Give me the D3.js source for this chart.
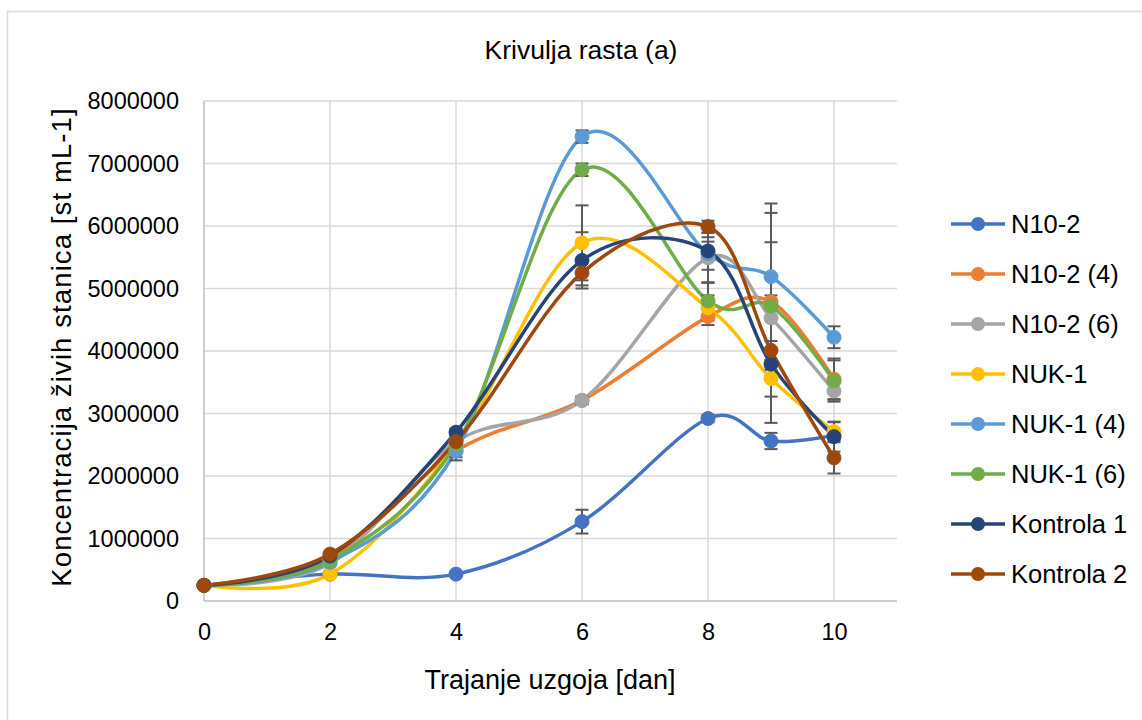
<!DOCTYPE html>
<html>
<head>
<meta charset="utf-8">
<script src="https://cdn.jsdelivr.net/npm/d3@7/dist/d3.min.js"></script>
<style>
  html, body { margin: 0; padding: 0; background: #fff; }
  svg { display: block; }
  text { font-family: "Liberation Sans", Arial, sans-serif; fill: #000; }
</style>
</head>
<body>
<svg id="chart" width="1142" height="720"></svg>
<script>
// ---- data ----
const days = [0, 2, 4, 6, 8, 9, 10];
const xTicks = [0, 2, 4, 6, 8, 10];
const yTicks = [0, 1000000, 2000000, 3000000, 4000000, 5000000, 6000000, 7000000, 8000000];
const seriesNames = ["N10-2", "N10-2 (4)", "N10-2 (6)", "NUK-1", "NUK-1 (4)", "NUK-1 (6)", "Kontrola 1", "Kontrola 2"];
const seriesColors = ["#4472C4", "#ED7D31", "#A5A5A5", "#FFC000", "#5B9BD5", "#70AD47", "#264478", "#9E480E"];

const valN10_2   = [250000, 430000, 430000, 1270000, 2920000, 2560000, 2650000];
const valN10_2_4 = [250000, 680000, 2400000, 3210000, 4550000, 4790000, 3550000];
const valN10_2_6 = [250000, 600000, 2550000, 3210000, 5490000, 4530000, 3360000];
const valNUK1    = [250000, 430000, 2500000, 5730000, 4690000, 3560000, 2710000];
const valNUK1_4  = [250000, 620000, 2400000, 7430000, 5560000, 5190000, 4220000];
const valNUK1_6  = [250000, 650000, 2500000, 6900000, 4800000, 4720000, 3520000];
const valKontr1  = [250000, 720000, 2700000, 5450000, 5600000, 3790000, 2630000];
const valKontr2  = [250000, 750000, 2550000, 5250000, 5990000, 4010000, 2290000];

const errN10_2   = [0, 30000, 30000, 190000, 60000, 130000, 60000];
const errN10_2_4 = [0, 30000, 150000, 60000, 135000, 100000, 330000];
const errN10_2_6 = [0, 30000, 100000, 60000, 400000, 1680000, 130000];
const errNUK1    = [0, 30000, 100000, 600000, 200000, 290000, 150000];
const errNUK1_4  = [0, 30000, 100000, 100000, 260000, 1170000, 175000];
const errNUK1_6  = [0, 30000, 100000, 100000, 300000, 1020000, 330000];
const errKontr1  = [0, 30000, 60000, 450000, 150000, 200000, 240000];
const errKontr2  = [0, 30000, 60000, 200000, 95000, 150000, 250000];

const titleText = "Krivulja rasta (a)";
const xTitle = "Trajanje uzgoja [dan]";
const yTitle = "Koncentracija živih stanica [st mL-1]";

const allValues = [valN10_2, valN10_2_4, valN10_2_6, valNUK1, valNUK1_4, valNUK1_6, valKontr1, valKontr2];
const allErrors = [errN10_2, errN10_2_4, errN10_2_6, errNUK1, errNUK1_4, errNUK1_6, errKontr1, errKontr2];

const series = seriesNames.map((name, i) => ({
  name, color: seriesColors[i],
  points: days.map((d, j) => ({ x: d, y: allValues[i][j], e: allErrors[i][j] }))
}));

// ---- layout ----
const svg = d3.select("#chart");
const x = d3.scaleLinear().domain([0, 11]).range([204, 897]);
const y = d3.scaleLinear().domain([0, 8000000]).range([601, 101]);

// chart border
svg.append("rect").attr("x", 7.5).attr("y", 11.5).attr("width", 1400).attr("height", 900)
  .attr("fill", "none").attr("stroke", "#d9d9d9").attr("stroke-width", 1.5);

// gridlines
svg.append("g").selectAll("line").data(yTicks).join("line")
  .attr("x1", x(0)).attr("x2", x(11)).attr("y1", d => y(d)).attr("y2", d => y(d))
  .attr("stroke", d => d === 0 ? "#bfbfbf" : "#d9d9d9").attr("stroke-width", 1.5);
svg.append("g").selectAll("line").data(xTicks).join("line")
  .attr("y1", y(0)).attr("y2", y(8000000)).attr("x1", d => x(d)).attr("x2", d => x(d))
  .attr("stroke", d => d === 0 ? "#bfbfbf" : "#d9d9d9").attr("stroke-width", 1.5);

// axes labels via d3 axes
const yAxis = d3.axisLeft(y).tickValues(yTicks).tickFormat(d3.format("d")).tickSize(0).tickPadding(25);
const gy = svg.append("g").attr("transform", `translate(${x(0)},0)`).call(yAxis);
gy.select(".domain").remove();
gy.selectAll("text").style("font-size", "23.5px").style("font-family", "'Liberation Sans', Arial, sans-serif").attr("fill", "#000");

const xAxis = d3.axisBottom(x).tickValues(xTicks).tickFormat(d3.format("d")).tickSize(0).tickPadding(22);
const gx = svg.append("g").attr("transform", `translate(0,${y(0)})`).call(xAxis);
gx.select(".domain").remove();
gx.selectAll("text").style("font-size", "23.5px").style("font-family", "'Liberation Sans', Arial, sans-serif").attr("fill", "#000");

// titles
svg.append("text").attr("x", 581).attr("y", 59).attr("text-anchor", "middle")
  .style("font-size", "26.5px").text(titleText);
svg.append("text").attr("x", 550).attr("y", 689).attr("text-anchor", "middle")
  .style("font-size", "27px").text(xTitle);
svg.append("text").attr("transform", `translate(71,347) rotate(-90)`).attr("text-anchor", "middle")
  .style("font-size", "27.5px").style("letter-spacing", "1.1px").text(yTitle);

// lines
const line = d3.line().x(d => x(d.x)).y(d => y(d.y)).curve(d3.curveCardinal.tension(0));
svg.append("g").selectAll("path").data(series).join("path")
  .attr("d", d => line(d.points)).attr("fill", "none")
  .attr("stroke", d => d.color).attr("stroke-width", 3.5).attr("stroke-linejoin", "round");

// error bars
const errG = svg.append("g").attr("stroke", "#595959").attr("stroke-width", 2);
series.forEach(s => {
  s.points.filter(p => p.e > 0).forEach(p => {
    const cx = x(p.x);
    errG.append("line").attr("x1", cx).attr("x2", cx).attr("y1", y(p.y - p.e)).attr("y2", y(p.y + p.e));
    errG.append("line").attr("x1", cx - 6.5).attr("x2", cx + 6.5).attr("y1", y(p.y - p.e)).attr("y2", y(p.y - p.e));
    errG.append("line").attr("x1", cx - 6.5).attr("x2", cx + 6.5).attr("y1", y(p.y + p.e)).attr("y2", y(p.y + p.e));
  });
});

// markers
series.forEach(s => {
  svg.append("g").selectAll("circle").data(s.points).join("circle")
    .attr("cx", d => x(d.x)).attr("cy", d => y(d.y)).attr("r", 7)
    .attr("fill", s.color).attr("stroke", s.color).attr("stroke-width", 1);
});

// legend
const lg = svg.append("g");
series.forEach((s, i) => {
  const ly = 224 + i * 50;
  lg.append("line").attr("x1", 951).attr("x2", 1005).attr("y1", ly).attr("y2", ly)
    .attr("stroke", s.color).attr("stroke-width", 3.5);
  lg.append("circle").attr("cx", 978).attr("cy", ly).attr("r", 7).attr("fill", s.color);
  lg.append("text").attr("x", 1011).attr("y", ly).attr("dy", "0.35em")
    .style("font-size", "25.5px").text(s.name);
});
</script>
</body>
</html>
